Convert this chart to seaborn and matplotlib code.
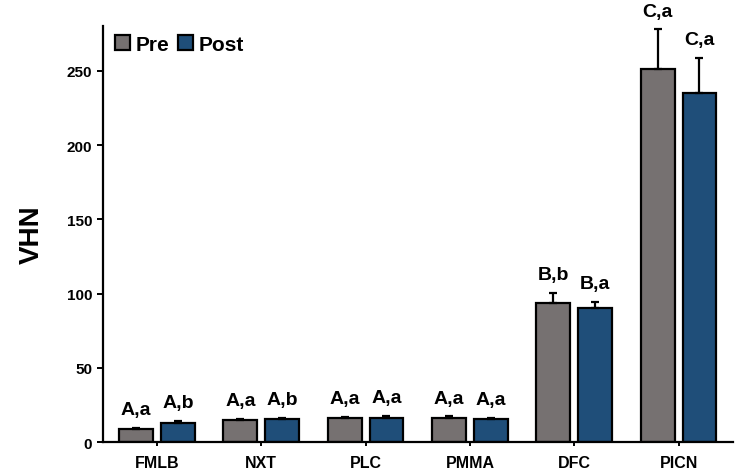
import numpy as np
import pandas as pd

import matplotlib as mpl
mpl.use('Agg')
import seaborn as sns
import matplotlib.pyplot as plt

materials = ['FMLB', 'NXT', 'PLC', 'PMMA', 'DFC', 'PICN']
pre_vhn = [8.8, 14.8, 16.2, 16.2, 93.7, 251.3]
post_vhn = [12.6, 15.5, 16.0, 15.7, 90.3, 235.2]
pre_err = [0.8, 0.8, 0.8, 1.2, 6.7, 26.5]
post_err = [1.5, 0.8, 1.5, 0.8, 4.3, 23.3]
pre_labels = ['A,a', 'A,a', 'A,a', 'A,a', 'B,b', 'C,a']
post_labels = ['A,b', 'A,b', 'A,a', 'A,a', 'B,a', 'C,a']

sns.set_style('white')
plt.rcParams['font.family'] = ['Liberation Sans', 'DejaVu Sans']
plt.rcParams['text.color'] = 'black'
plt.rcParams['axes.labelcolor'] = 'black'
plt.rcParams['xtick.color'] = 'black'
plt.rcParams['ytick.color'] = 'black'

plot_df = pd.DataFrame({
    'Material': materials * 2,
    'VHN': pre_vhn + post_vhn,
    'Time': ['Pre'] * len(materials) + ['Post'] * len(materials),
    })

fig = plt.figure(figsize=(7.44, 4.77), dpi=100)
ax = fig.add_axes([0.138, 0.071, 0.847, 0.872])

sns.barplot(data=plot_df, x='Material', y='VHN', hue='Time',
            palette={'Pre': '#767171', 'Post': '#1f4e79'}, saturation=1,
            width=0.8, gap=0.19, edgecolor='black', linewidth=1.6,
            errorbar=None, ax=ax)

# error bars (upper only) and the significance letters
n = len(materials)
bars = [p for p in ax.patches if p.get_height() > 0][:2 * n]
bars = sorted(bars, key=lambda p: p.get_x())
vals = [v for pair in zip(pre_vhn, post_vhn) for v in pair]
errs = [e for pair in zip(pre_err, post_err) for e in pair]
labs = [l for pair in zip(pre_labels, post_labels) for l in pair]

for bar, val, err, lab in zip(bars, vals, errs, labs):
    xc = bar.get_x() + bar.get_width() / 2
    ax.errorbar(xc, val, yerr=[[0], [err]], color='black', capsize=3,
                capthick=1.6, elinewidth=1.6, zorder=3)
    ax.annotate(lab, (xc, val + err), xytext=(0, 7),
                textcoords='offset points', ha='center', va='bottom',
                size=14, weight='bold')

ax.set_xlim(-0.52, n - 0.48)
ax.set_ylim(0, 280)
ax.set_yticks([0, 50, 100, 150, 200, 250])

for side in ['top', 'right']:
    ax.spines[side].set_visible(False)
for side in ['left', 'bottom']:
    ax.spines[side].set_linewidth(1.6)
    ax.spines[side].set_color('black')

ax.tick_params(axis='y', direction='out', length=4, width=1.4, left=True,
               labelsize=11)
ax.tick_params(axis='x', direction='out', length=3, width=1.4, bottom=True,
               labelsize=11.5, pad=6)
for lbl in ax.get_xticklabels() + ax.get_yticklabels():
    lbl.set_fontweight('bold')

ax.set_xlabel('')
ax.set_ylabel('VHN', size=20, weight='bold', labelpad=16)

ax.legend(loc='upper left', bbox_to_anchor=(0.0, 1.01), ncol=2,
          frameon=False, handlelength=0.7, handleheight=0.7,
          handletextpad=0.3, columnspacing=0.4, borderaxespad=0.2,
          prop={'size': 15, 'weight': 'bold'})

plt.savefig('out.png', dpi=100)
plt.close()
